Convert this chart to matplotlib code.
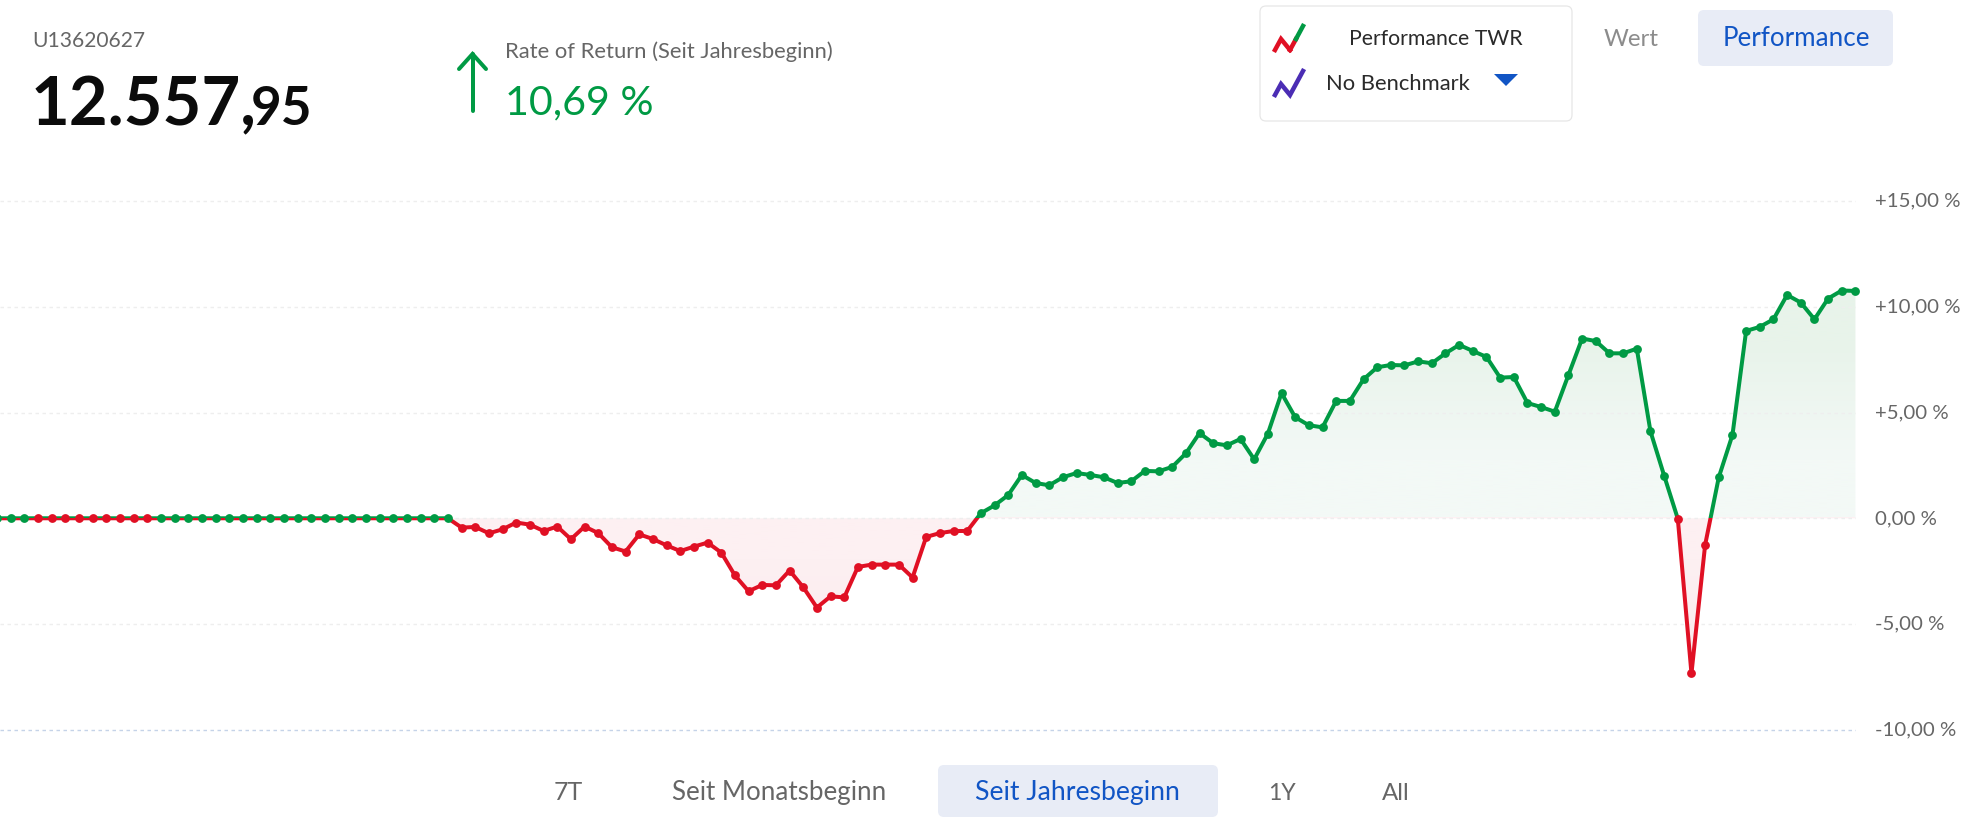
import numpy as np
import matplotlib
matplotlib.use("Agg")
import matplotlib.pyplot as plt
from matplotlib.patches import FancyBboxPatch, Polygon, Rectangle
from matplotlib.transforms import ScaledTranslation

plt.rcParams['font.family'] = ['Lato', 'DejaVu Sans']

# ---------- data ----------
flat_start = [0.001, 0.001, 0.001] + [-0.001] * 9 + [0.001] * 22
decline = [-0.44, -0.41, -0.71, -0.52, -0.20, -0.30, -0.60, -0.39, -0.99, -0.39,
           -0.70, -1.37, -1.57, -0.76, -0.98, -1.28, -1.55, -1.34, -1.15, -1.62,
           -2.70, -3.45, -3.15, -3.17, -2.47, -3.26, -4.22, -3.69, -3.74, -2.30,
           -2.19, -2.19, -2.19, -2.80, -0.88, -0.70, -0.60, -0.60]
rise = [0.24, 0.61, 1.10, 2.05, 1.67, 1.56, 1.94, 2.14, 2.05, 1.94,
        1.67, 1.75, 2.24, 2.22, 2.43, 3.07, 4.03, 3.55, 3.45, 3.75,
        2.79, 4.00, 5.92, 4.78, 4.40, 4.30, 5.55, 5.55, 6.57, 7.14,
        7.25, 7.23, 7.42, 7.33, 7.80, 8.20, 7.91, 7.63, 6.65, 6.68,
        5.45, 5.26, 5.04, 6.78, 8.50, 8.38, 7.80, 7.80, 8.02, 4.11, 2.02]
crash = [-0.02, -7.33, -1.26]
recovery = [1.94, 3.94, 8.86, 9.05, 9.41, 10.56, 10.20, 9.41, 10.39, 10.77, 10.75]
y_ticks = [-10, -5, 0, 5, 10, 15]
y_tick_labels = ['-10,00 %', '-5,00 %', '0,00 %', '+5,00 %', '+10,00 %', '+15,00 %']
account = 'U13620627'
value_main = '12.557,'
value_cents = '95'
return_label = 'Rate of Return (Seit Jahresbeginn)'
return_value = '10,69 %'
periods = ['7T', 'Seit Monatsbeginn', 'Seit Jahresbeginn', '1Y', 'All']

values = np.array(flat_start + decline + rise + crash + recovery)
idx = np.arange(len(values))

# ---------- style ----------
W, H = 1976, 832
GREEN, RED = '#009a44', '#e01024'
BLUE = '#1155c5'
PILL = '#e8ecf6'
GREY = '#666666'
PX = 72 / 100  # points per pixel

fig = plt.figure(figsize=(W / 100, H / 100), dpi=100, facecolor='white')

# chart axes: ends at the last point, runs the whole figure height
AX_RIGHT = 1856
step = 13.665
ax = fig.add_axes([0, 0, AX_RIGHT / W, 1])
ax.set_facecolor('none')
y0_px, per_pct = 518.3, 21.15
x_left = 3 / step
x_right = (AX_RIGHT + 3) / step
y_top = y0_px / per_pct
y_bot = (y0_px - H) / per_pct

# gradient area, clipped to the polygon between the curve and zero
poly = Polygon(np.column_stack([np.r_[idx, idx[-1], idx[0]], np.r_[values, 0, 0]]),
               closed=True, transform=ax.transData, facecolor='none', edgecolor='none')
ax.add_patch(poly)


def gradient(c_far, c_near, extent):
    arr = np.array([[matplotlib.colors.to_rgb(c_far)], [matplotlib.colors.to_rgb(c_near)]])
    im = ax.imshow(arr, extent=extent, aspect='auto', interpolation='bilinear',
                   origin='upper', zorder=1)
    im.set_clip_path(poly)


gradient('#e8f3ea', '#f3f9f6', [0, idx[-1], 0, 11])
gradient('#fdf0f2', '#fbebee', [0, idx[-1], -8, 0])

ax.set_xlim(x_left, x_right)
ax.set_ylim(y_bot, y_top)

# curve: one colour above zero, the other below
for colour, lo, hi in [(GREEN, 0, y_top), (RED, y_bot, 0)]:
    line, = ax.plot(idx, values, color=colour, lw=4.0 * PX, zorder=3,
                    solid_joinstyle='round', clip_on=True)
    line.set_clip_path(Rectangle((-5, lo), 160, hi - lo, transform=ax.transData))
up = values >= 0
ax.scatter(idx[up], values[up], s=(8.8 * PX) ** 2, color=GREEN, zorder=4, clip_on=False, linewidths=0)
ax.scatter(idx[~up], values[~up], s=(8.8 * PX) ** 2, color=RED, zorder=4, clip_on=False, linewidths=0)

# y axis
for s in ax.spines.values():
    s.set_visible(False)
ax.set_xticks([])
ax.yaxis.tick_right()
ax.set_yticks(y_ticks)
ax.set_yticklabels(y_tick_labels)
ax.tick_params(axis='y', length=0, pad=19 * PX, labelsize=20 * PX * 1.02, labelcolor=GREY)
ax.grid(axis='y', color='#eeeeee', lw=1.4 * PX, ls=(0, (2.5, 2.5)), zorder=2)
ax.set_axisbelow(False)
ax.get_ygridlines()[0].set_color('#c5d3e8')
for g in ax.get_ygridlines():
    g.set_zorder(2)
up_shift = ScaledTranslation(0, 1.2 / 100, fig.dpi_scale_trans)
for lab in ax.get_yticklabels():
    lab.set_transform(lab.get_transform() + up_shift)

# overlay in pixel coordinates for the page furniture
ov = fig.add_axes([0, 0, 1, 1], zorder=5)
ov.set_xlim(0, W)
ov.set_ylim(H, 0)
ov.axis('off')


def txt(x, y, s, px, color, ha='left', **kw):
    return ov.text(x, y, s, fontsize=px * PX, color=color, ha=ha, va='baseline', **kw)


def pill(x0, y0, x1, y1, fc, ec='none', r=6, lw=0):
    ov.add_patch(FancyBboxPatch((x0 + r, y0 + r), x1 - x0 - 2 * r, y1 - y0 - 2 * r,
                                boxstyle=f'round,pad={r},rounding_size={r}',
                                fc=fc, ec=ec, lw=lw * PX))


txt(32, 47, account, 21, GREY)
txt(31, 125, value_main, 67, '#0b0b0b', fontweight='bold')
txt(251, 125, value_cents, 53, '#0b0b0b', fontweight='bold')

# arrow
ov.plot([472.5, 472.5], [54, 111], color=GREEN, lw=4 * PX, solid_capstyle='round')
ov.plot([459, 472.5, 486], [69, 54, 69], color=GREEN, lw=4 * PX,
        solid_capstyle='round', solid_joinstyle='miter')
txt(505, 58, return_label, 22, GREY)
txt(505, 114, return_value, 41.3, GREEN)

# legend box
pill(1260, 6, 1572, 121, 'white', ec='#e6e6e6', lw=1.2)
ov.plot([1275, 1281, 1290], [50, 39, 50], color=RED, lw=4.5 * PX, solid_joinstyle='miter')
ov.plot([1290, 1296], [50, 39], color=RED, lw=4.5 * PX)
ov.plot([1296, 1303], [39, 26], color=GREEN, lw=4.5 * PX)
ov.plot([1275, 1281, 1290, 1303], [95, 84, 95, 71], color='#4b2db4', lw=4.5 * PX, solid_joinstyle='miter')
txt(1436, 45, 'Performance TWR', 21.3, '#2a2a2a', ha='center')
txt(1398, 90, 'No Benchmark', 22, '#2a2a2a', ha='center')
ov.add_patch(Polygon([(1494, 74), (1518, 74), (1506, 86)], closed=True, fc=BLUE, ec='none'))

# top buttons
txt(1631, 46, 'Wert', 24, '#8c8c8c', ha='center')
pill(1698, 10, 1893, 66, PILL)
txt(1796, 46.5, 'Performance', 26, BLUE, ha='center')

# bottom buttons
pill(938, 765, 1218, 817, PILL)
period_x = [568, 779, 1077, 1282, 1396]
period_px = [25, 26, 26.6, 23, 24]
for label, x, px in zip(periods, period_x, period_px):
    c = BLUE if label == 'Seit Jahresbeginn' else GREY
    txt(x, 800, label, px, c, ha='center')

fig.savefig('out.png', dpi=100, facecolor='white')
